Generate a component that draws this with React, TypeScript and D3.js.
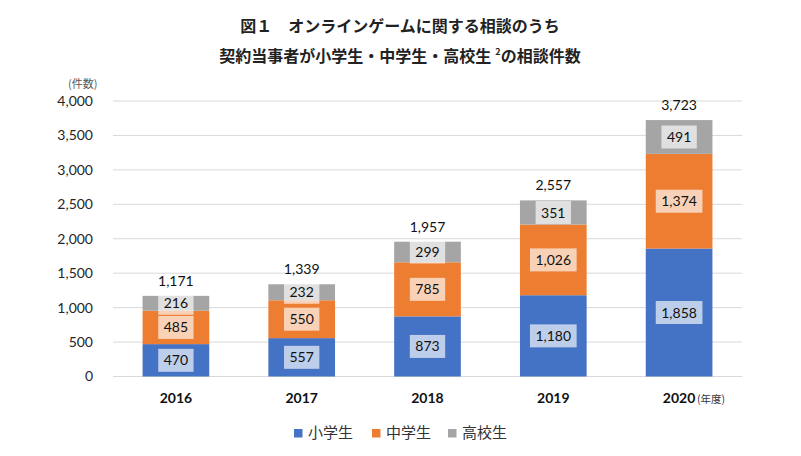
import React from "react";
import * as d3 from "d3";

const years = ["2016", "2017", "2018", "2019", "2020"];
const seriesNames = ["小学生", "中学生", "高校生"];
const elementary = [470, 557, 873, 1180, 1858];
const juniorHigh = [485, 550, 785, 1026, 1374];
const highSchool = [216, 232, 299, 351, 491];
const yTicks = [0, 500, 1000, 1500, 2000, 2500, 3000, 3500, 4000];
const colors = ["#4472C4", "#ED7D31", "#A5A5A5"];
const boxFills = ["#C2CDEC", "#F8CDB2", "#DEDEDE"];

const W = 801;
const H = 456;
const plot = { left: 113, right: 742, top: 101, bottom: 376.5 };
const numFont = "Lato, 'Noto Sans', sans-serif";
const jpFont = "'Noto Sans CJK JP', sans-serif";

const fmt = d3.format(",");

function textWidth(s: string, size: number) {
  let w = 0;
  for (const ch of s) w += ch === "," ? 0.23 * size : 0.58 * size;
  return w;
}

export default function App() {
  const table = years.map((y, i) => ({
    year: y,
    s0: elementary[i],
    s1: juniorHigh[i],
    s2: highSchool[i],
  }));
  const stack = d3.stack<any>().keys(["s0", "s1", "s2"])(table);
  const x = d3.scaleBand().domain(years).range([plot.left, plot.right]).paddingInner(0.47).paddingOuter(0.235);
  const y = d3.scaleLinear().domain([0, 4000]).range([plot.bottom, plot.top]);
  const totals = table.map((d) => d.s0 + d.s1 + d.s2);

  return (
    <svg width={W} height={H} style={{ display: "block", position: "absolute", left: 0, top: 0 }}>
      <rect width={W} height={H} fill="#fff" />
      <text x={400} y={32} textAnchor="middle" fontFamily={jpFont} fontWeight={700} fontSize={16} fill="#222">
        図１　オンラインゲームに関する相談のうち
      </text>
      <text x={400} y={62} textAnchor="middle" fontFamily={jpFont} fontWeight={700} fontSize={16} fill="#222">
        契約当事者が小学生・中学生・高校生
        <tspan fontSize={9} dy={-7} dx={4}>2</tspan>
        <tspan dy={7}>の相談件数</tspan>
      </text>
      <text x={68} y={88} fontFamily={jpFont} fontSize={11} fill="#595959">(件数)</text>
      {yTicks.map((t) => (
        <g key={t}>
          <line x1={plot.left} x2={plot.right} y1={y(t)} y2={y(t)} stroke="#D9D9D9" strokeWidth={1} />
          <text x={93} y={y(t)} dy="0.35em" textAnchor="end" fontFamily={numFont} fontSize={14} fill="#262626">
            {fmt(t)}
          </text>
        </g>
      ))}
      {stack.map((layer, si) => (
        <g key={si}>
          {layer.map((d, i) => (
            <rect
              key={i}
              x={x(years[i])}
              y={y(d[1])}
              width={x.bandwidth()}
              height={y(d[0]) - y(d[1])}
              fill={colors[si]}
            />
          ))}
        </g>
      ))}
      {stack.map((layer, si) => (
        <g key={"l" + si}>
          {layer.map((d, i) => {
            const v = d[1] - d[0];
            const s = fmt(v);
            const cx = (x(years[i]) as number) + x.bandwidth() / 2;
            const cy = (y(d[0]) + y(d[1])) / 2;
            const bw = textWidth(s, 14) + 11;
            const bh = 23;
            return (
              <g key={i}>
                <rect x={cx - bw / 2} y={cy - bh / 2} width={bw} height={bh} fill="#fff" fillOpacity={0.65} />
                <text x={cx} y={cy} dy="0.36em" textAnchor="middle" fontFamily={numFont} fontSize={14} fill="#111">
                  {s}
                </text>
              </g>
            );
          })}
        </g>
      ))}
      {totals.map((t, i) => (
        <text
          key={i}
          x={(x(years[i]) as number) + x.bandwidth() / 2}
          y={y(t) - 10}
          textAnchor="middle"
          fontFamily={numFont}
          fontSize={14}
          fill="#111"
        >
          {fmt(t)}
        </text>
      ))}
      {years.map((yr) => (
        <text
          key={yr}
          x={(x(yr) as number) + x.bandwidth() / 2}
          y={403}
          textAnchor="middle"
          fontFamily={numFont}
          fontWeight={700}
          fontSize={14}
          fill="#111"
        >
          {yr}
        </text>
      ))}
      <text x={697} y={403} fontFamily={jpFont} fontSize={10.5} fill="#333">(年度)</text>
      {seriesNames.map((n, i) => {
        const lx = [294, 372, 448][i];
        return (
          <g key={n}>
            <rect x={lx} y={429} width={8.5} height={8.5} fill={colors[i]} />
            <text x={lx + 14} y={437.5} fontFamily={jpFont} fontSize={15} fill="#333">{n}</text>
          </g>
        );
      })}
    </svg>
  );
}
